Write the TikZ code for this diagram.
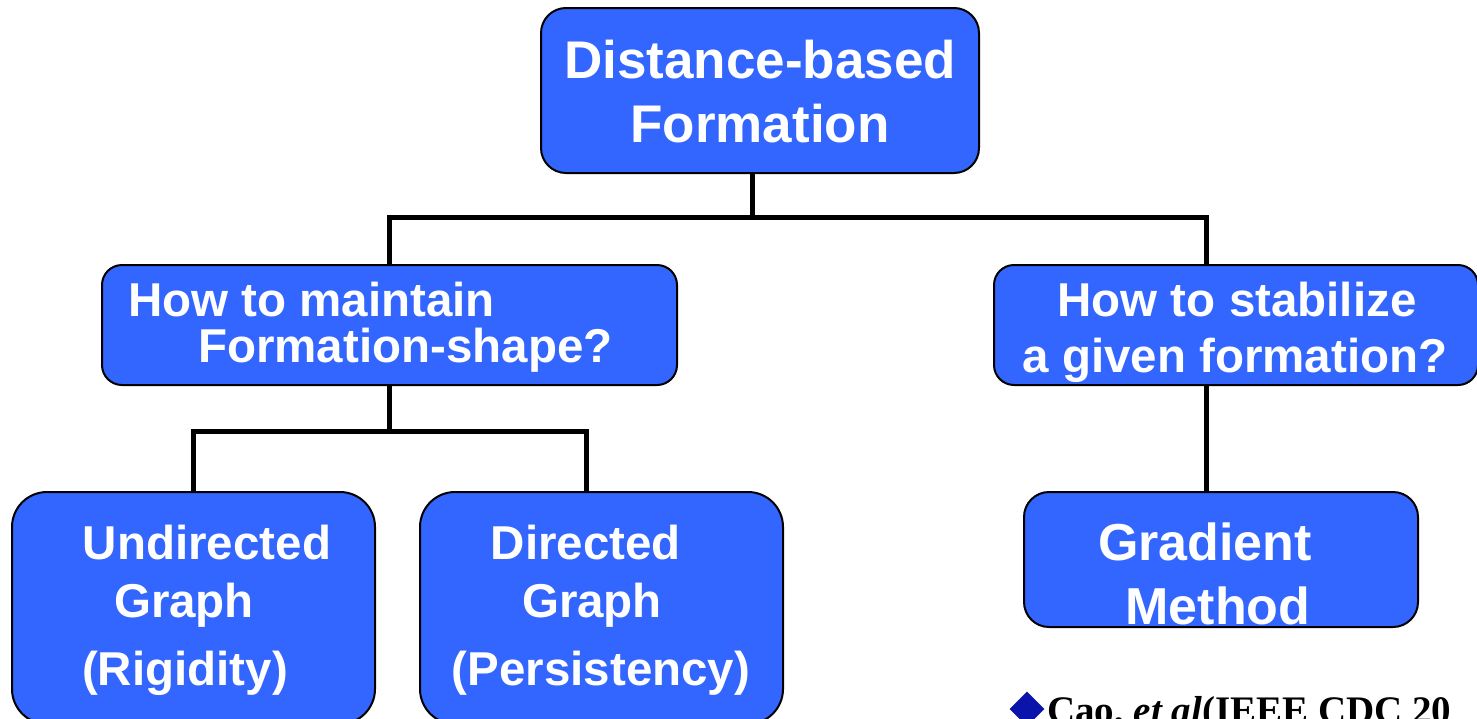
\documentclass[tikz,border=0pt]{standalone}
\usepackage{fontspec}
\setmainfont{Liberation Serif}
\setsansfont{Liberation Sans}
\usetikzlibrary{shapes.geometric}
\definecolor{boxblue}{HTML}{3366FF}
\definecolor{bulletblue}{HTML}{0A14AA}

\tikzset{
    box/.style={draw=black, line width=2pt, fill=boxblue, inner sep=0pt, rounded corners=#1},
    lbl/.style={text=white, font=\sffamily\bfseries, anchor=base, inner sep=0pt},
    conn/.style={line width=5pt, black}
}

\begin{document}
\begin{tikzpicture}[x=1pt,y=-1pt]
    \useasboundingbox (0,0) rectangle (1477,718);
    \clip (0,0) rectangle (1477,718);

    % Boxes
    \node[box=25pt, minimum width=438pt, minimum height=165pt] (top) at (760,90.5) {};
    \node[box=20pt, minimum width=575pt, minimum height=120pt] (shape) at (389.5,325) {};
    \node[box=20pt, minimum width=484pt, minimum height=120pt] (stab) at (1236,325) {};
    \node[box=35pt, minimum width=363pt, minimum height=232pt] (undir) at (193.5,608) {};
    \node[box=35pt, minimum width=363pt, minimum height=232pt] (dir) at (601.5,608) {};
    \node[box=25pt, minimum width=394pt, minimum height=135pt] (grad) at (1221,559.5) {};

    % Connections
    \coordinate (bus1) at (752,217);
    \coordinate (bus2) at (389,431);
    \coordinate (rstem) at (1206,0);
    \coordinate (dstem) at (586,0);
    \draw[conn] (top.south -| bus1) -- (bus1);
    \draw[conn] (shape.north) |- (bus1) -| (stab.north -| rstem);
    \draw[conn] (stab.south -| rstem) -- (grad.north -| rstem);
    \draw[conn] (shape.south -| bus2) -- (bus2);
    \draw[conn] (undir.north) |- (bus2) -| (dir.north -| dstem);

    % Texts
    \node[lbl, font=\sffamily\bfseries\fontsize{53}{60}\selectfont] (t1) at (760,78) {Distance-based};
    \node[lbl, font=\sffamily\bfseries\fontsize{53}{60}\selectfont] (t2) at (760,142) {Formation};
    \node[lbl, anchor=base west, font=\sffamily\bfseries\fontsize{47.5}{54}\selectfont] (s1) at (128,316) {How to maintain};
    \node[lbl, anchor=base west, font=\sffamily\bfseries\fontsize{47.5}{54}\selectfont] (s2) at (198,362) {Formation-shape?};
    \node[lbl, font=\sffamily\bfseries\fontsize{47.5}{54}\selectfont] (r1) at (1237,316) {How to stabilize};
    \node[lbl, font=\sffamily\bfseries\fontsize{47.5}{54}\selectfont] (r2) at (1235,372) {a given formation?};
    \node[lbl, font=\sffamily\bfseries\fontsize{47.5}{54}\selectfont] (u1) at (207,559) {Undirected};
    \node[lbl, font=\sffamily\bfseries\fontsize{47.5}{54}\selectfont] (u2) at (184,617) {Graph};
    \node[lbl, font=\sffamily\bfseries\fontsize{47.5}{54}\selectfont] (u3) at (185,685) {(Rigidity)};
    \node[lbl, font=\sffamily\bfseries\fontsize{47.5}{54}\selectfont] (d1) at (586,559) {Directed};
    \node[lbl, font=\sffamily\bfseries\fontsize{47.5}{54}\selectfont] (d2) at (592,617) {Graph};
    \node[lbl, font=\sffamily\bfseries\fontsize{47.5}{54}\selectfont] (d3) at (601,685) {(Persistency)};
    \node[lbl, font=\sffamily\bfseries\fontsize{52}{58}\selectfont] (g1) at (1205,560) {Gradient};
    \node[lbl, font=\sffamily\bfseries\fontsize{52}{58}\selectfont] (g2) at (1218,624) {Method};

    % Reference
    \node[diamond, fill=bulletblue, inner sep=0pt, minimum size=35pt] (bullet) at (1027,709) {};
    \node[anchor=base west, inner sep=0pt, font=\bfseries\fontsize{39}{44}\selectfont] (cite) at (1047,723) {Cao, \textit{et al}(IEEE CDC 20};
\end{tikzpicture}
\end{document}
